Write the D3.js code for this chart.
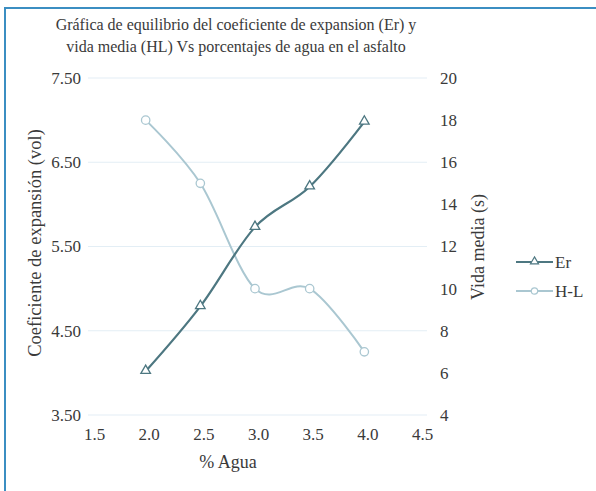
<!DOCTYPE html>
<html>
<head>
<meta charset="utf-8">
<script src="https://cdn.jsdelivr.net/npm/d3@7"></script>
<style>
  body { margin: 0; background: #fff; }
  text { font-family: "Liberation Serif", "DejaVu Serif", serif; fill: #3a3a3a; }
</style>
</head>
<body>
<svg id="chart"></svg>
<script>
// data
var agua = [2.0, 2.5, 3.0, 3.5, 4.0];
var er = [4.02, 4.79, 5.73, 6.21, 6.98];
var hl = [18, 15, 10, 10, 7];
var xTicks = [1.5, 2.0, 2.5, 3.0, 3.5, 4.0, 4.5];
var leftTicks = [3.5, 4.5, 5.5, 6.5, 7.5];
var rightTicks = [4, 6, 8, 10, 12, 14, 16, 18, 20];

var width = 596, height = 491;
var svg = d3.select("#chart")
            .attr("width", width)
            .attr("height", height);

// frame border (only top and left visible)
svg.append("path")
    .attr("d", "M5," + (height + 5) + "V8H" + (width + 5))
    .attr("fill", "none")
    .attr("stroke", "#3b8ec2")
    .attr("stroke-width", 2);

var x = d3.scaleLinear().domain([1.5, 4.5]).range([91, 419]);
var yL = d3.scaleLinear().domain([3.5, 7.5]).range([415, 78]);
var yR = d3.scaleLinear().domain([4, 20]).range([415, 78]);

// gridlines
svg.append("g")
   .selectAll("line")
   .data(leftTicks)
   .enter()
     .append("line")
     .attr("x1", x(1.5) - 3)
     .attr("x2", x(4.5) + 8)
     .attr("y1", d => yL(d))
     .attr("y2", d => yL(d))
     .attr("stroke", "#e3eef5")
     .attr("stroke-width", 1.2);

// axes: labels only, no lines
var xAxis = svg.append("g")
    .attr("transform", "translate(3," + 415 + ")")
    .call(d3.axisBottom(x).tickValues(xTicks).tickFormat(d3.format(".1f")).tickSize(0).tickPadding(13));
var lAxis = svg.append("g")
    .attr("transform", "translate(81,0)")
    .call(d3.axisLeft(yL).tickValues(leftTicks).tickFormat(d3.format(".2f")).tickSize(0).tickPadding(0));
var rAxis = svg.append("g")
    .attr("transform", "translate(440,0)")
    .call(d3.axisRight(yR).tickValues(rightTicks).tickSize(0).tickPadding(0));

[xAxis, lAxis, rAxis].forEach(a => {
  a.select(".domain").remove();
  a.selectAll("text")
   .attr("font-size", "17px")
   .attr("font-family", "Liberation Serif, serif")
   .attr("fill", "#3a3a3a");
});

// titles
var title = svg.append("text")
    .attr("x", 236)
    .attr("y", 30)
    .attr("font-size", "16px")
    .style("text-anchor", "middle");
title.append("tspan").attr("x", 236).text("Gráfica de equilibrio del coeficiente de expansion (Er) y");
title.append("tspan").attr("x", 236).attr("dy", "1.38em").text("vida media (HL) Vs porcentajes de agua en el asfalto");

svg.append("text")
    .attr("transform", "translate(41,243) rotate(-90)")
    .attr("font-size", "18.5px")
    .style("text-anchor", "middle")
    .text("Coeficiente de expansión (vol)");

svg.append("text")
    .attr("transform", "translate(484,247) rotate(-90)")
    .attr("font-size", "18px")
    .style("text-anchor", "middle")
    .text("Vida media (s)");

svg.append("text")
    .attr("x", 228)
    .attr("y", 468)
    .attr("font-size", "18px")
    .style("text-anchor", "middle")
    .text("% Agua");

// series
var colEr = "#4d7781", colHl = "#aac7d1";
var curve = d3.curveCardinal.tension(0);

var lineEr = d3.line().x((d, i) => x(agua[i])).y(d => yL(d)).curve(curve);
var lineHl = d3.line().x((d, i) => x(agua[i])).y(d => yR(d)).curve(curve);

svg.append("path")
    .datum(hl)
    .attr("d", lineHl)
    .attr("fill", "none")
    .attr("stroke", colHl)
    .attr("stroke-width", 2);

svg.append("path")
    .datum(er)
    .attr("d", lineEr)
    .attr("fill", "none")
    .attr("stroke", colEr)
    .attr("stroke-width", 2.2);

var tri = d3.symbol().type(d3.symbolTriangle).size(40);

svg.append("g")
   .selectAll("circle")
   .data(hl)
   .enter()
     .append("circle")
     .attr("cx", (d, i) => x(agua[i]))
     .attr("cy", d => yR(d))
     .attr("r", 4.2)
     .attr("fill", "#fff")
     .attr("stroke", colHl)
     .attr("stroke-width", 1.3);

svg.append("g")
   .selectAll("path")
   .data(er)
   .enter()
     .append("path")
     .attr("d", tri)
     .attr("transform", (d, i) => "translate(" + x(agua[i]) + "," + (yL(d) - 0.5) + ")")
     .attr("fill", "#fff")
     .attr("stroke", colEr)
     .attr("stroke-width", 1.3);

// legend
var legend = [
  { name: "Er", color: colEr, y: 262, marker: "tri" },
  { name: "H-L", color: colHl, y: 291, marker: "circle" }
];

var lg = svg.append("g")
   .selectAll("g")
   .data(legend)
   .enter()
     .append("g")
     .attr("transform", d => "translate(516," + d.y + ")");

lg.append("line")
  .attr("x1", 0).attr("x2", 37)
  .attr("stroke", d => d.color)
  .attr("stroke-width", 2);

lg.filter(d => d.marker === "tri")
  .append("path")
  .attr("d", d3.symbol().type(d3.symbolTriangle).size(28))
  .attr("transform", "translate(18.5,-0.5)")
  .attr("fill", "#fff")
  .attr("stroke", d => d.color)
  .attr("stroke-width", 1.2);

lg.filter(d => d.marker === "circle")
  .append("circle")
  .attr("cx", 18.5)
  .attr("r", 3.2)
  .attr("fill", "#fff")
  .attr("stroke", d => d.color)
  .attr("stroke-width", 1.2);

lg.append("text")
  .attr("x", 39)
  .attr("dy", "0.35em")
  .attr("font-size", "17px")
  .text(d => d.name);
</script>
</body>
</html>
